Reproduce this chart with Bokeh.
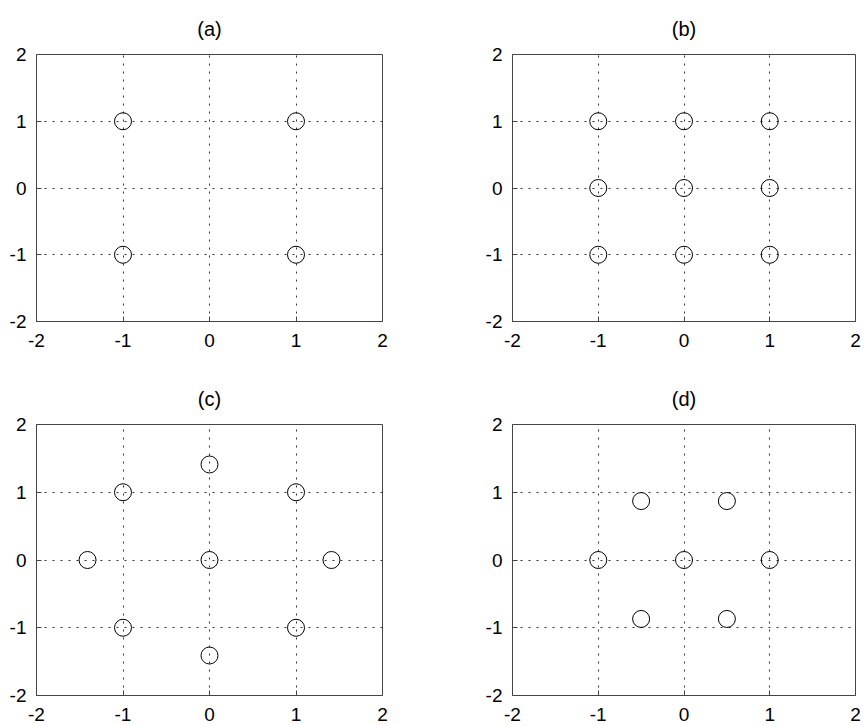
from bokeh.plotting import figure
from bokeh.layouts import column, row
from bokeh.models import Range1d, FixedTicker
from bokeh.embed import file_html
from bokeh.resources import INLINE

# ---- data ----
titles = ["(a)", "(b)", "(c)", "(d)"]
a_x = [-1, 1, -1, 1]
a_y = [1, 1, -1, -1]
b_x = [-1, 0, 1, -1, 0, 1, -1, 0, 1]
b_y = [1, 1, 1, 0, 0, 0, -1, -1, -1]
c_x = [-1, 1, -1, 1, 0, 0, -1.41, 1.41, 0]
c_y = [1, 1, -1, -1, 1.41, -1.41, 0, 0, 0]
d_x = [-1, 0, 1, -0.5, 0.5, -0.5, 0.5]
d_y = [0, 0, 0, 0.87, 0.87, -0.87, -0.87]
ticks = [-2, -1, 0, 1, 2]
tick_labels = {-2: "-2", -1: "-1", 0: "0", 1: "1", 2: "2"}

FONT = "Liberation Sans"


def make(title, xs, ys, w, h, bl, br, bt, bb):
    p = figure(width=w, height=h, output_backend="svg", toolbar_location=None,
               x_range=Range1d(-2, 2), y_range=Range1d(-2, 2),
               min_border_left=bl, min_border_right=br,
               min_border_top=bt, min_border_bottom=bb,
               title=title)
    p.title.align = "center"
    p.title.text_font = FONT
    p.title.text_font_size = "20px"
    p.title.text_font_style = "normal"
    p.title.text_color = "black"
    p.title.standoff = 30
    p.outline_line_color = "#444444"
    p.outline_line_width = 1
    p.background_fill_color = "white"
    p.border_fill_color = "white"
    for ax in (p.xaxis[0], p.yaxis[0]):
        ax.ticker = FixedTicker(ticks=ticks)
        ax.major_label_overrides = tick_labels
        ax.major_label_text_font = FONT
        ax.major_label_text_font_size = "19px"
        ax.major_label_text_color = "black"
        ax.axis_line_color = None
        ax.major_tick_in = 5
        ax.major_tick_out = 0
        ax.major_tick_line_color = "#444444"
        ax.minor_tick_line_color = None
    p.xaxis.major_label_standoff = 12
    p.yaxis.major_label_standoff = 10
    for g in (p.xgrid[0], p.ygrid[0]):
        g.ticker = FixedTicker(ticks=ticks)
        g.grid_line_color = "#333333"
        g.grid_line_dash = "2 6"
        g.grid_line_width = 1
        g.grid_line_alpha = 1
    p.scatter(xs, ys, marker="circle", size=17, fill_color=None,
              line_color="black", line_width=1)
    return p


pa = make(titles[0], a_x, a_y, 432, 370, 36, 50, 52, 49)
pb = make(titles[1], b_x, b_y, 433, 370, 80, 10, 52, 49)
pc = make(titles[2], c_x, c_y, 432, 356, 36, 50, 53, 31)
pd = make(titles[3], d_x, d_y, 433, 356, 80, 10, 53, 31)

layout = column(row(pa, pb), row(pc, pd))

open("out.html", "w").write(file_html(layout, INLINE))
